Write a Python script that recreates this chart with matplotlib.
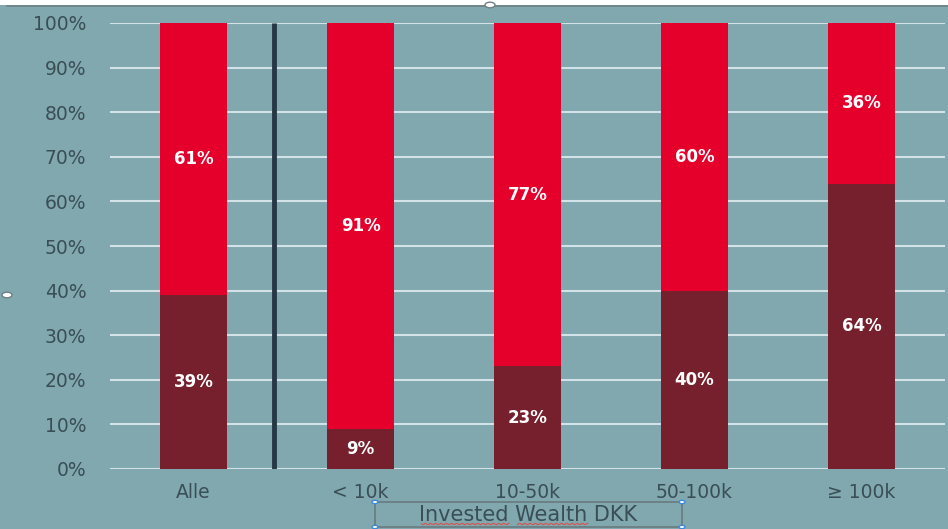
import matplotlib
matplotlib.use("Agg")
import matplotlib.pyplot as plt
from matplotlib.patches import Rectangle, Circle
import numpy as np

categories = ["Alle", "< 10k", "10-50k", "50-100k", "\u2265 100k"]
lower_share = [39, 9, 23, 40, 64]
upper_share = [61, 91, 77, 60, 36]
y_ticks = [0, 10, 20, 30, 40, 50, 60, 70, 80, 90, 100]
x_title = "Invested Wealth DKK"

bg = "#80A8AE"
dark_red = "#75202C"
bright_red = "#E4002B"
text_col = "#3A4E56"
grid_col = "#D3E2E6"

W, H = 948, 529
fig = plt.figure(figsize=(W / 100, H / 100), dpi=100, facecolor=bg)
plt.rcParams["font.family"] = ["DejaVu Sans"]

ax = fig.add_axes([110 / W, 1 - 469 / H, 835 / W, 446 / H])
ax.set_facecolor(bg)

x = np.arange(len(categories))
ax.bar(x, lower_share, width=0.4, color=dark_red, zorder=3)
ax.bar(x, upper_share, width=0.4, bottom=lower_share, color=bright_red, zorder=3)

for xi, lo, up in zip(x, lower_share, upper_share):
    ax.text(xi, lo / 2, f"{lo}%", ha="center", va="center", color="white",
            fontsize=12, fontweight="bold", zorder=4)
    ax.text(xi, lo + up / 2, f"{up}%", ha="center", va="center", color="white",
            fontsize=12, fontweight="bold", zorder=4)

# separator between "Alle" and the groups
ax.plot([0.48, 0.48], [0, 100], color="#263845", lw=3.5, zorder=4,
        solid_capstyle="butt")

ax.set_xlim(-0.5, len(categories) - 0.5)
ax.set_ylim(0, 100)
ax.set_yticks(y_ticks)
ax.set_yticklabels([f"{t}%" for t in y_ticks])
ax.set_xticks(x)
ax.set_xticklabels(categories)
ax.tick_params(axis="both", length=0, labelsize=13.5, colors=text_col)
ax.tick_params(axis="y", pad=17)
ax.tick_params(axis="x", pad=10)
ax.yaxis.grid(True, color=grid_col, lw=1.5, zorder=0)
ax.set_axisbelow(True)
for s in ax.spines.values():
    s.set_visible(False)

# white strip at the top with the frame line
fig.patches.append(Rectangle((0, 1 - 5 / H), 1, 5 / H, transform=fig.transFigure,
                             facecolor="white", edgecolor="none", zorder=5))
fig.lines.append(plt.Line2D([7 / W, 1], [1 - 5.5 / H, 1 - 5.5 / H],
                            transform=fig.transFigure, color="#6E7F84", lw=1.2, zorder=6))

# axis title in its (selected) text box
x0, x1, y0, y1 = 375, 682, 502, 527
fig.patches.append(Rectangle((x0 / W, 1 - y1 / H), (x1 - x0) / W, (y1 - y0) / H,
                             transform=fig.transFigure, facecolor="none",
                             edgecolor="#6A7B80", lw=1.2, zorder=6))
title = fig.text((x0 + x1) / 2 / W, 1 - 515 / H, x_title, ha="center", va="center",
                 fontsize=15, color=text_col, zorder=7)

# spell-check squiggles under the first two words
renderer = fig.canvas.get_renderer()
tb = title.get_window_extent(renderer)
words = x_title.split(" ")
start = 0.0
for w in words[:2]:
    probe = fig.text(0, 0, x_title[:x_title.index(w) + len(w)], fontsize=15)
    end_px = probe.get_window_extent(renderer).width
    probe.remove()
    pre = fig.text(0, 0, x_title[:x_title.index(w)], fontsize=15) if x_title.index(w) else None
    start_px = pre.get_window_extent(renderer).width if pre else 0
    if pre:
        pre.remove()
    xs = np.linspace(tb.x0 + start_px + 2, tb.x0 + end_px, 50)
    ys = (H - 524) + 0.8 * np.sin(xs * 1.2)
    fig.lines.append(plt.Line2D(xs / W, ys / H, transform=fig.transFigure,
                                color="#D9534F", lw=0.8, zorder=7))

# selection handles
for hx, hy in [(x0, y0), (x0, y1), (x1, y0), (x1, y1)]:
    fig.patches.append(Circle((hx / W, 1 - hy / H), 3 / W, transform=fig.transFigure,
                              facecolor="white", edgecolor="#3C8AD8", lw=1, zorder=8))
for hx, hy in [(490, 5), (7, 295)]:
    fig.patches.append(Circle((hx / W, 1 - hy / H), 5 / W, transform=fig.transFigure,
                              facecolor="white", edgecolor="#6E7F84", lw=1, zorder=8))

fig.savefig("out.png", dpi=100, facecolor=bg)
